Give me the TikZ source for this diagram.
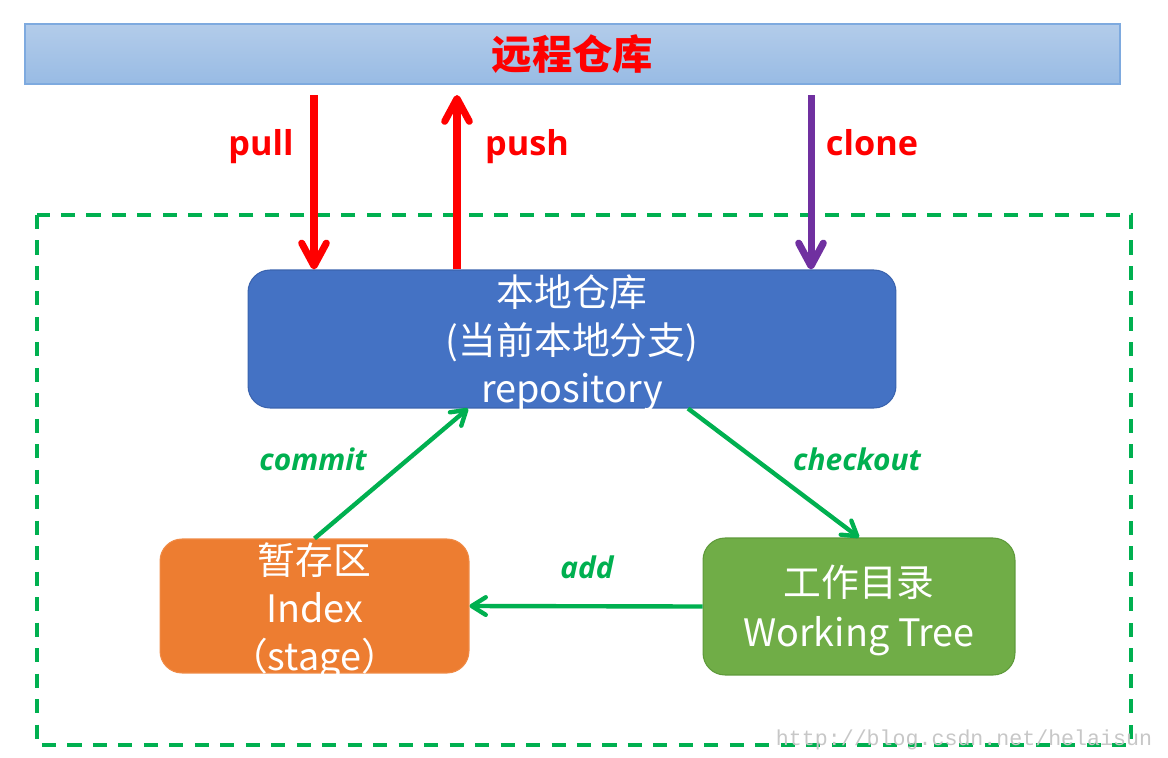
\documentclass[tikz,border=0pt]{standalone}
\usepackage{fontspec}
\newfontfamily\cjk{Noto Sans CJK SC}
\newfontfamily\lab{Open Sans}
\newfontfamily\wmfont{Liberation Mono}
\usetikzlibrary{arrows.meta,calc}
\definecolor{gitred}{HTML}{FF0000}
\definecolor{clonepurple}{HTML}{7030A0}
\definecolor{flowgreen}{HTML}{00B050}
\definecolor{localblue}{HTML}{4472C4}
\definecolor{localborder}{HTML}{3A63AE}
\definecolor{idxorange}{HTML}{ED7D31}
\definecolor{idxborder}{HTML}{F08A45}
\definecolor{wtgreen}{HTML}{70AD47}
\definecolor{wtborder}{HTML}{5E9A3A}
\definecolor{bartop}{HTML}{B3CCEA}
\definecolor{barbot}{HTML}{98BBE4}
\definecolor{barborder}{HTML}{7EAADF}
\begin{document}
\begin{tikzpicture}[x=0.02cm,y=-0.02cm,
  remotebar/.style={draw=barborder, line width=0.8pt, top color=bartop, bottom color=barbot,
    minimum width=21.9cm, minimum height=1.2cm, inner sep=0,
    text=gitred, font=\cjk\bfseries\fontsize{23pt}{26pt}\selectfont},
  box/.style={rounded corners=0.44cm, inner sep=0, line width=0.6pt},
  boxtext/.style={inner sep=0, align=center, text=white,
    font=\cjk\fontsize{21.5pt}{27.2pt}\selectfont},
  bigarrow/.style={line width=4pt, -{Straight Barb[length=13pt,width=14pt,round]}},
  flow/.style={draw=flowgreen, line width=2.5pt, -{Straight Barb[length=8pt,width=10pt,round]}},
  remotelabel/.style={anchor=base, text=gitred, font=\lab\bfseries\fontsize{19.5pt}{22pt}\selectfont},
  flowlabel/.style={anchor=base, text=flowgreen, font=\lab\bfseries\itshape\fontsize{17pt}{20pt}\selectfont},
  frame/.style={draw=flowgreen, line width=2.3pt, dash pattern=on 8pt off 6.5pt},
]
\useasboundingbox (0,0) rectangle (1168,757);

% local area frame
\draw[frame] (37,215) rectangle (1131,745);

% remote repository bar
\node[remotebar] (remote) at (572.5,54) {远程仓库};

% boxes
\node[box, fill=localblue, draw=localborder, minimum width=12.96cm, minimum height=2.76cm]
  (local) at (572,339) {};
\node[boxtext] (localtext) at ($(local.center)+(0,4)$) {本地仓库\\(当前本地分支)\\repository};
\node[box, fill=idxorange, draw=idxborder, minimum width=6.18cm, minimum height=2.68cm]
  (index) at (314.5,606) {};
\node[boxtext] (indextext) at ($(index.center)+(0,5)$) {暂存区\\Index\\（stage）};
\node[box, fill=wtgreen, draw=wtborder, minimum width=6.24cm, minimum height=2.74cm]
  (wt) at (859,606.5) {};
\node[boxtext, font=\cjk\fontsize{21.5pt}{28.3pt}\selectfont] (wttext) at ($(wt.center)+(0,4)$) {工作目录\\Working Tree};

% remote arrows
\coordinate (pulltop) at (314,95);
\coordinate (pushtop) at (457,95);
\coordinate (clonetop) at (811,95);
\draw[bigarrow, draw=gitred] (pulltop) -- (pulltop |- local.north);
\draw[bigarrow, draw=gitred] (pushtop |- local.north) -- (pushtop);
\draw[bigarrow, draw=clonepurple] (clonetop) -- (clonetop |- local.north);
\node[remotelabel] (pulllbl) at (261,155) {pull};
\node[remotelabel] (pushlbl) at (527,155) {push};
\node[remotelabel] (clonelbl) at (872,155) {clone};

% local flow arrows
\draw[flow] (index.north) -- ($(local.south)+(-104,0)$);
\draw[flow] ($(local.south)+(116,0)$) -- (wt.north);
\draw[flow] (wt.west) -- (index.east);
\node[flowlabel] (commitlbl) at (313,470) {commit};
\node[flowlabel] (checkoutlbl) at (857,470) {checkout};
\node[flowlabel] (addlbl) at (587,578) {add};

% watermark
\node[text=black!22, font=\wmfont\fontsize{12.3pt}{14pt}\selectfont] (wm) at (964,740) {http://blog.csdn.net/helaisun};
\end{tikzpicture}
\end{document}
